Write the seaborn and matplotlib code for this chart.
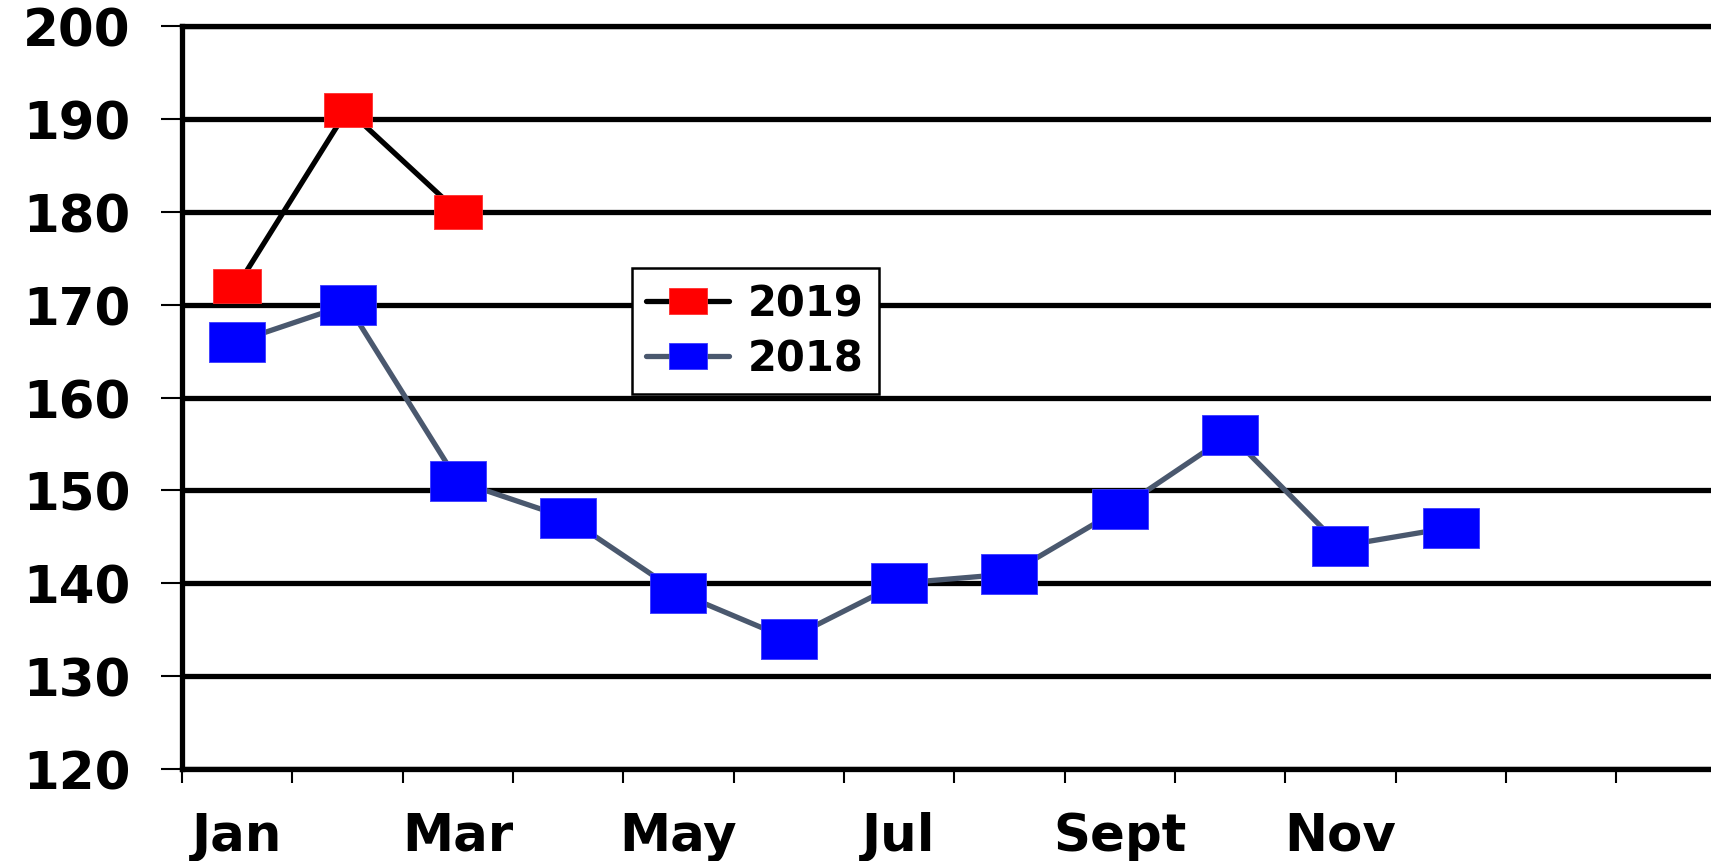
import matplotlib

matplotlib.use("Agg")
import matplotlib.pyplot as plt
import pandas as pd
import seaborn as sns
from matplotlib.ticker import FixedLocator

months = list(range(12))
values_2018 = [166, 170, 151, 147, 139, 134, 140, 141, 148, 156, 144, 146]
values_2019 = [172, 191, 180]
label_pos = [0, 2, 4, 6, 8, 10]
month_labels = ["Jan", "Mar", "May", "Jul", "Sept", "Nov"]
y_ticks = [120, 130, 140, 150, 160, 170, 180, 190, 200]

sns.set_style("white")
plt.rcParams["font.family"] = ["DejaVu Sans"]
plt.rcParams["font.weight"] = "bold"
plt.rcParams["text.color"] = "black"
plt.rcParams["xtick.color"] = "black"
plt.rcParams["ytick.color"] = "black"

df18 = pd.DataFrame({"month": months, "value": values_2018})
df19 = pd.DataFrame({"month": months[: len(values_2019)], "value": values_2019})

rect = [(-1.4, -1), (1.4, -1), (1.4, 1), (-1.4, 1), (-1.4, -1)]

fig = plt.figure(figsize=(17.11, 8.62), dpi=100)
ax = fig.add_axes([0.1064, 0.1067, 0.8936, 0.862])

sns.lineplot(data=df19, x="month", y="value", ax=ax, color="black", lw=3.8,
             marker=rect, markersize=34, markerfacecolor="#ff0000",
             markeredgecolor="#ff3030", markeredgewidth=0.6, label="2019", zorder=4)
sns.lineplot(data=df18, x="month", y="value", ax=ax, color="#4a586e", lw=3.8,
             marker=rect, markersize=40.5, markerfacecolor="#0000ff",
             markeredgecolor="#3a3aff", markeredgewidth=0.6, label="2018", zorder=3)

ax.set_xlim(-0.5, 13.36)
ax.set_ylim(120, 200)
ax.set_yticks(y_ticks)
ax.set_xticks(label_pos)
ax.set_xticklabels(month_labels)
ax.xaxis.set_minor_locator(FixedLocator([i - 0.5 for i in range(14)]))
ax.set_xlabel("")
ax.set_ylabel("")

ax.grid(axis="y", color="black", lw=3.8)
ax.set_axisbelow(True)
for side in ["left", "bottom", "top"]:
    ax.spines[side].set_linewidth(3.8)
    ax.spines[side].set_color("black")
ax.spines["right"].set_visible(False)

ax.tick_params(axis="y", which="major", direction="out", length=15, width=1.5,
               labelsize=37, pad=22, left=True, labelcolor="black")
ax.tick_params(axis="x", which="major", length=0, labelsize=37, pad=30,
               labelcolor="black")
ax.tick_params(axis="x", which="minor", direction="out", length=10, width=1.5,
               bottom=True)
for t in ax.get_xticklabels() + ax.get_yticklabels():
    t.set_fontweight("bold")

leg = ax.legend(loc="upper left", bbox_to_anchor=(0.294, 0.674), fontsize=30,
                frameon=True, fancybox=False, edgecolor="black", framealpha=1,
                handlelength=2.0, borderpad=0.35, labelspacing=0.3,
                handletextpad=0.45, borderaxespad=0)
leg.get_frame().set_linewidth(1.8)
for h in leg.legend_handles:
    h.set_markersize(27)
for t in leg.get_texts():
    t.set_fontweight("bold")
    t.set_color("black")

fig.savefig("out.png", dpi=100)
